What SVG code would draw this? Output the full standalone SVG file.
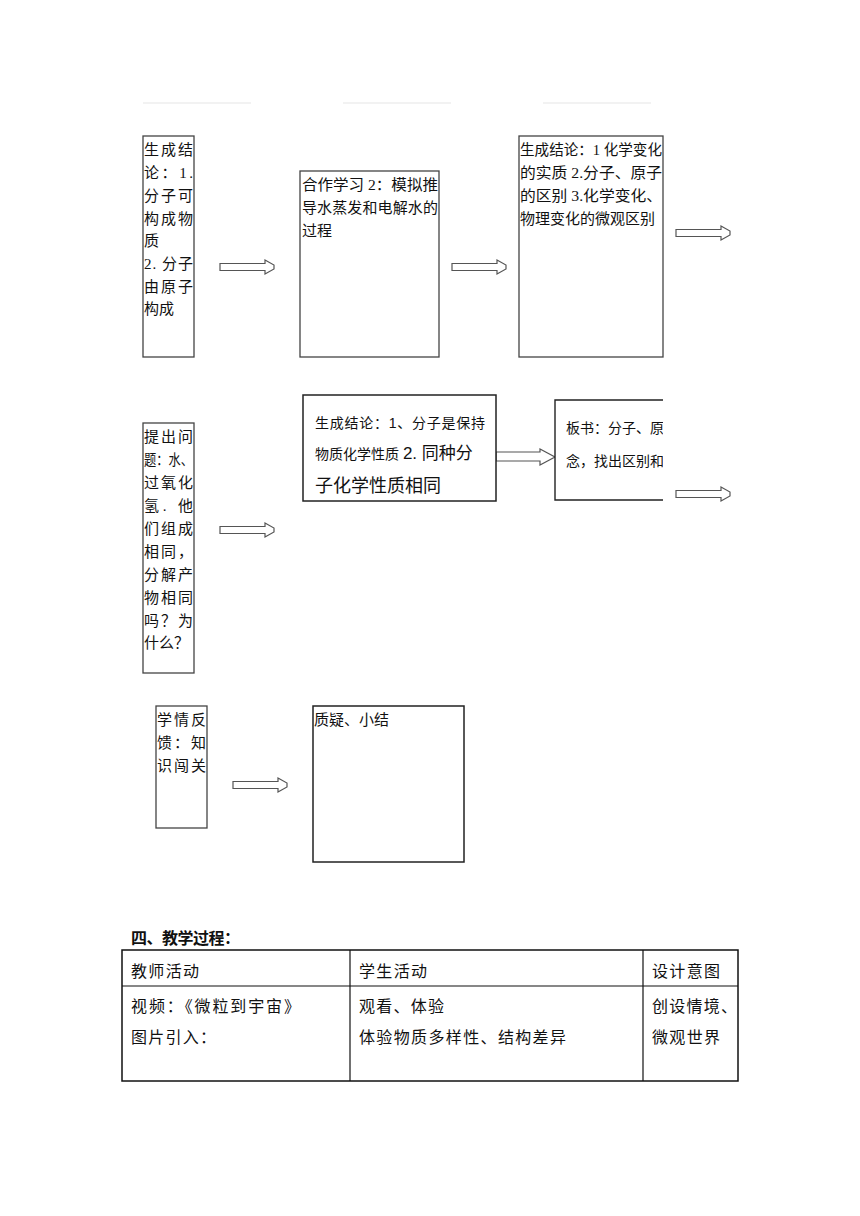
<svg xmlns="http://www.w3.org/2000/svg" width="860" height="1216" viewBox="0 0 860 1216">
<style>
.bx{fill:#fff;stroke:#444;stroke-width:1.3}
.bx2{fill:#fff;stroke:#222;stroke-width:1.5}
.t{font-family:"Liberation Serif","Noto Sans CJK SC",serif;font-size:15px;fill:#111}
.tt{font-family:"Liberation Serif","Noto Sans CJK SC",serif;font-size:16px;fill:#111}
.s{font-family:"Liberation Sans","Noto Sans CJK SC",sans-serif;font-size:14px;fill:#111}
.h{font-family:"Liberation Sans","Noto Sans CJK SC",sans-serif;font-size:16px;font-weight:bold;fill:#111}
.arr{fill:#fff;stroke:#555;stroke-width:1.2}
.faint{stroke:#eeeeee;stroke-width:1.5}
.tb{fill:none;stroke:#111;stroke-width:1.5}
.tl{stroke:#111;stroke-width:1.2}
</style>
<defs>
<clipPath id="c6"><rect x="550" y="390" width="113" height="120"/></clipPath>
<path id="ba" d="M0,-3.5 H45 V-7 L54,-2 V2 L45,7 V3.5 H0 Z"/>
</defs>
<rect width="860" height="1216" fill="#fff"/>
<g id="faint-lines">
<line class="faint" x1="143" y1="103" x2="251" y2="103"/>
<line class="faint" x1="343" y1="103" x2="451" y2="103"/>
<line class="faint" x1="543" y1="103" x2="651" y2="103"/>
</g>
<g id="connectors">
<use href="#ba" class="arr" transform="translate(220,267)"/>
<use href="#ba" class="arr" transform="translate(452,267)"/>
<use href="#ba" class="arr" transform="translate(676,233)"/>
<use href="#ba" class="arr" transform="translate(220,530)"/>
<path class="arr" d="M496,452 H540 V449 L555,457 L540,465 V461 H496 Z"/>
<use href="#ba" class="arr" transform="translate(676,494)"/>
<use href="#ba" class="arr" transform="translate(233,785)"/>
</g>
<g id="n1">
<rect class="bx" x="143" y="136" width="51" height="221"/>
<text class="t" x="144" y="155" textLength="49" lengthAdjust="spacing">生成结</text>
<text class="t" x="144" y="178" textLength="49" lengthAdjust="spacing">论：1.</text>
<text class="t" x="144" y="201" textLength="49" lengthAdjust="spacing">分子可</text>
<text class="t" x="144" y="224" textLength="49" lengthAdjust="spacing">构成物</text>
<text class="t" x="144" y="246">质</text>
<text class="t" x="144" y="269" textLength="49" lengthAdjust="spacing">2. 分子</text>
<text class="t" x="144" y="292" textLength="49" lengthAdjust="spacing">由原子</text>
<text class="t" x="144" y="314">构成</text>
</g>
<g id="n2">
<rect class="bx" x="300" y="171" width="139" height="186"/>
<text class="t" x="302" y="190" textLength="136" lengthAdjust="spacingAndGlyphs">合作学习 2：模拟推</text>
<text class="t" x="302" y="213" textLength="136" lengthAdjust="spacing">导水蒸发和电解水的</text>
<text class="t" x="302" y="236">过程</text>
</g>
<g id="n3">
<rect class="bx" x="519" y="136" width="144" height="221"/>
<text class="t" x="520" y="155" textLength="142" lengthAdjust="spacingAndGlyphs">生成结论：1 化学变化</text>
<text class="t" x="520" y="178" textLength="142" lengthAdjust="spacingAndGlyphs">的实质 2.分子、原子</text>
<text class="t" x="520" y="201" textLength="142" lengthAdjust="spacingAndGlyphs">的区别 3.化学变化、</text>
<text class="t" x="520" y="224">物理变化的微观区别</text>
</g>
<g id="n4">
<rect class="bx" x="143" y="423" width="51" height="250"/>
<text class="t" x="144" y="442" textLength="49" lengthAdjust="spacing">提出问</text>
<text class="t" x="144" y="465" textLength="49" lengthAdjust="spacingAndGlyphs">题：水、</text>
<text class="t" x="144" y="488" textLength="49" lengthAdjust="spacing">过氧化</text>
<text class="t" x="144" y="511" textLength="49" lengthAdjust="spacing">氢. 他</text>
<text class="t" x="144" y="534" textLength="49" lengthAdjust="spacing">们组成</text>
<text class="t" x="144" y="557" textLength="49" lengthAdjust="spacing">相同，</text>
<text class="t" x="144" y="580" textLength="49" lengthAdjust="spacing">分解产</text>
<text class="t" x="144" y="603" textLength="49" lengthAdjust="spacing">物相同</text>
<text class="t" x="144" y="626" textLength="49" lengthAdjust="spacing">吗？为</text>
<text class="t" x="144" y="648">什么？</text>
</g>
<g id="n5">
<rect class="bx2" x="303" y="395" width="193" height="106"/>
<text class="s" x="315" y="428" textLength="170" lengthAdjust="spacing">生成结论：1、分子是保持</text>
<text class="s" x="315" y="459">物质化学性质 <tspan style="font-size:17px">2. 同种分</tspan></text>
<text class="s" x="315" y="492" style="font-size:18px">子化学性质相同</text>
</g>
<g id="n6">
<g clip-path="url(#c6)">
<path d="M663,400 H555 V500 H663" fill="#fff" stroke="#222" stroke-width="1.4"/>
<text class="s" x="566" y="433">板书：分子、原子的概</text>
<text class="s" x="566" y="466">念，找出区别和联系</text>
</g>
</g>
<g id="n7">
<rect class="bx" x="156" y="706" width="51" height="122"/>
<text class="t" x="157" y="725" textLength="49" lengthAdjust="spacing">学情反</text>
<text class="t" x="157" y="748" textLength="49" lengthAdjust="spacing">馈：知</text>
<text class="t" x="157" y="771" textLength="49" lengthAdjust="spacing">识闯关</text>
</g>
<g id="n8">
<rect class="bx2" x="313" y="706" width="151" height="156"/>
<text class="t" x="314" y="725">质疑、小结</text>
</g>
<g id="table">
<text class="h" x="131" y="944" textLength="109" lengthAdjust="spacing">四、教学过程：</text>
<rect class="tb" x="122" y="950" width="616" height="131"/>
<line class="tl" x1="122" y1="986" x2="738" y2="986"/>
<line class="tl" x1="350" y1="950" x2="350" y2="1081"/>
<line class="tl" x1="643" y1="950" x2="643" y2="1081"/>
<text class="tt" x="131" y="977" textLength="68" lengthAdjust="spacing">教师活动</text>
<text class="tt" x="359" y="977" textLength="68" lengthAdjust="spacing">学生活动</text>
<text class="tt" x="652" y="977" textLength="68" lengthAdjust="spacing">设计意图</text>
<text class="tt" x="131" y="1012" textLength="169" lengthAdjust="spacing">视频：《微粒到宇宙》</text>
<text class="tt" x="131" y="1043" textLength="85" lengthAdjust="spacing">图片引入：</text>
<text class="tt" x="359" y="1012" textLength="85" lengthAdjust="spacing">观看、体验</text>
<text class="tt" x="359" y="1043" textLength="207" lengthAdjust="spacing">体验物质多样性、结构差异</text>
<text class="tt" x="652" y="1012" textLength="85" lengthAdjust="spacing">创设情境、</text>
<text class="tt" x="652" y="1043" textLength="68" lengthAdjust="spacing">微观世界</text>
</g>
</svg>
